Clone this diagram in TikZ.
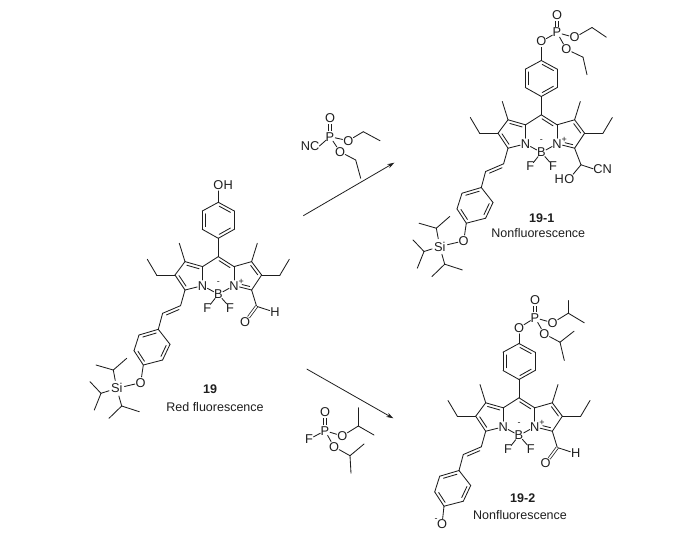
\documentclass[tikz,border=0pt]{standalone}
\usepackage{fontspec}
\setmainfont{Liberation Sans}
\usetikzlibrary{calc,positioning,arrows.meta}
\definecolor{inkgray}{RGB}{30,30,30}
\tikzset{
  bond/.style={draw=inkgray,line width=0.85pt,line cap=round},
  dblbond/.style={draw=inkgray,line width=0.75pt,double,double distance=1.6pt},
  atom/.style={circle,inner sep=-0.7pt,text=inkgray,font=\fontsize{12.8}{14}\selectfont},
  atomtail/.style={inner sep=0pt,text=inkgray,font=\fontsize{12.8}{14}\selectfont},
  charge/.style={inner sep=0pt,text=inkgray,font=\fontsize{9}{10}\selectfont},
  caption/.style={inner sep=0pt,text=inkgray,font=\fontsize{12.5}{14}\selectfont},
  reaction/.style={draw=inkgray,line width=0.8pt,-{Stealth[length=7pt,width=4.5pt]}}
}
% inner line of a double bond: [trim at start]{from}{to}, it lies left of the direction
\newcommand{\dbond}[3][0.15]{\draw[bond] ($(#2)!#1!(#3)!3pt!90:(#3)$) -- ($(#3)!0.15!(#2)!-3pt!90:(#2)$);}
% dye skeleton, B at the origin of the scope
\newcommand{\dyecore}{
  \node[atom] (B) at (0,0) {B};
  \node[atom] (NL) at (-15.7,-8.7) {N};
  \node[atom] (NR) at (15.7,-8.7) {N};
  \node[atom] (FL) at (-11,14) {F};
  \node[atom] (FR) at (11.7,13.3) {F};
  \node[charge] (minus) at (0,-11) {-};
  \node[charge] (plus) at (23,-12.7) {+};
  \coordinate (meso) at (0,-37.7);
  \coordinate (aL) at (-15.7,-27.7);
  \coordinate (bL) at (-33.3,-32.7);
  \coordinate (gL) at (-43.3,-19.3);
  \coordinate (dL) at (-33.3,-4.3);
  \coordinate (aR) at (15.7,-27.7);
  \coordinate (bR) at (33.3,-32.7);
  \coordinate (gR) at (43.3,-19.3);
  \coordinate (dR) at (33.3,-4.3);
  \coordinate (meL) at (-39,-51);
  \coordinate (meR) at (39,-51);
  \coordinate (etL1) at (-61.7,-19.3);
  \coordinate (etL2) at (-71,-35);
  \coordinate (etR1) at (61.7,-19.3);
  \coordinate (etR2) at (71,-35);
  \coordinate (ph1) at (0,-56);
  \coordinate (ph2) at (16,-65);
  \coordinate (ph3) at (16,-83.3);
  \coordinate (ph4) at (0,-92);
  \coordinate (ph5) at (-16,-83.3);
  \coordinate (ph6) at (-16,-65);
  \coordinate (v1) at (-37.7,11.3);
  \coordinate (v2) at (-55.7,19);
  \coordinate (r1) at (-60,35);
  \coordinate (r2) at (-48.3,50);
  \coordinate (r3) at (-55.7,65.7);
  \coordinate (r4) at (-75,70.7);
  \coordinate (r5) at (-84.3,56.4);
  \coordinate (r6) at (-79.3,40.7);
  \foreach \a/\b in {B/NL,B/NR,B/FL,B/FR,NL/aL,NL/dL,NR/aR,NR/dR,aL/meso,meso/aR,aL/bL,bL/gL,gL/dL,aR/bR,bR/gR,gR/dR,
      bL/meL,bR/meR,gL/etL1,etL1/etL2,gR/etR1,etR1/etR2,meso/ph1,ph1/ph2,ph2/ph3,ph3/ph4,ph4/ph5,ph5/ph6,ph6/ph1,
      dL/v1,v1/v2,v2/r1,r1/r2,r2/r3,r3/r4,r4/r5,r5/r6,r6/r1}
    \draw[bond] (\a) -- (\b);
  \dbond{aR}{meso} \dbond{aL}{bL} \dbond{gL}{dL} \dbond[0.42]{NR}{dR} \dbond{gR}{bR} \dbond{v1}{v2}
  \dbond{ph1}{ph2} \dbond{ph3}{ph4} \dbond{ph5}{ph6} \dbond{r1}{r6} \dbond{r5}{r4} \dbond{r3}{r2}
}
% silyl ether on the styryl ring
\newcommand{\silylether}{
  \node[atom] (OS) at (-77.6,88.4) {O};
  \node[atom,inner sep=0.3pt] (Si) at (-101.6,94) {Si};
  \coordinate (ipA) at (-105,75.7);
  \coordinate (ipA1) at (-91.6,64);
  \coordinate (ipA2) at (-122.3,70.7);
  \coordinate (ipB) at (-117.3,99);
  \coordinate (ipB1) at (-128.3,87.4);
  \coordinate (ipB2) at (-124,115.7);
  \coordinate (ipC) at (-96.6,111.7);
  \coordinate (ipC1) at (-79,117.4);
  \coordinate (ipC2) at (-109.3,124);
  \foreach \a/\b in {r4/OS,OS/Si,Si/ipA,ipA/ipA1,ipA/ipA2,Si/ipB,ipB/ipB1,ipB/ipB2,Si/ipC,ipC/ipC1,ipC/ipC2}
    \draw[bond] (\a) -- (\b);
}
% aldehyde on the right ring
\newcommand{\formyl}{
  \coordinate (cho) at (38.3,12);
  \node[atom] (Oald) at (26.7,27.7) {O};
  \node[atom] (Hald) at (56.7,18) {H};
  \draw[bond] (dR) -- (cho);
  \draw[bond] (cho) -- (Hald);
  \draw[dblbond] (cho) -- (Oald);
}

\begin{document}
\begin{tikzpicture}[x=1pt,y=-1pt]
\useasboundingbox (0,0) rectangle (700,547);

% Compound 19
\begin{scope}[shift={(218.3,294.3)}]
  \dyecore
  \silylether
  \formyl
  \node[atom] (Oph) at (0,-109.3) {O};
  \node[atomtail,right=-0.8pt of Oph] (Hph) {H};
  \draw[bond] (ph4) -- (Oph);
\end{scope}

% Compound 19-1
\begin{scope}[shift={(541.3,152.5)}]
  \dyecore
  \silylether
  \node[atom] (Oph) at (0,-111) {O};
  \node[atom] (Pa) at (15.7,-120) {P};
  \node[atom] (Oa) at (15.7,-137.7) {O};
  \node[atom] (Ob) at (33.3,-115) {O};
  \node[atom] (Oc) at (25,-103.3) {O};
  \coordinate (etB1) at (50.7,-125);
  \coordinate (etB2) at (65,-115.3);
  \coordinate (etC1) at (41.7,-95.3);
  \coordinate (etC2) at (45.7,-77.7);
  \coordinate (chOH) at (39.7,12.3);
  \node[atom] (Ohy) at (28,26.3) {O};
  \node[atomtail,left=-0.8pt of Ohy] (Hhy) {H};
  \node[atomtail] (CN) at (61.3,16.3) {CN};
  \foreach \a/\b in {ph4/Oph,Oph/Pa,Pa/Ob,Pa/Oc,Ob/etB1,etB1/etB2,Oc/etC1,etC1/etC2,dR/chOH,chOH/Ohy}
    \draw[bond] (\a) -- (\b);
  \draw[bond] (chOH) -- (CN.west);
  \draw[dblbond] (Pa) -- (Oa);
\end{scope}

% Compound 19-2
\begin{scope}[shift={(519,435.5)}]
  \dyecore
  \formyl
  \node[atom] (Ophen) at (-77,89) {O};
  \node[charge] (minusO) at (-83,85) {-};
  \draw[bond] (r4) -- (Ophen);
  \node[atom] (Oph) at (0,-107.7) {O};
  \node[atom] (Pa) at (16,-117.7) {P};
  \node[atom] (Oa) at (16,-135) {O};
  \node[atom] (Ob) at (33.7,-112.7) {O};
  \node[atom] (Oc) at (25.3,-101.7) {O};
  \coordinate (ipD) at (49.3,-122.3);
  \coordinate (ipD1) at (49.3,-135);
  \coordinate (ipD2) at (65.3,-112.7);
  \coordinate (ipE) at (41,-93.3);
  \coordinate (ipE1) at (55,-104.3);
  \coordinate (ipE2) at (45.3,-75);
  \foreach \a/\b in {ph4/Oph,Oph/Pa,Pa/Ob,Pa/Oc,Ob/ipD,ipD/ipD1,ipD/ipD2,Oc/ipE,ipE/ipE1,ipE/ipE2}
    \draw[bond] (\a) -- (\b);
  \draw[dblbond] (Pa) -- (Oa);
\end{scope}

% Cyanophosphonate reagent
\node[atom] (P1) at (330,136.7) {P};
\node[atom] (O1a) at (330,118.3) {O};
\node[atomtail] (NC1) at (310,146) {NC};
\node[atom] (O1b) at (348.3,140.7) {O};
\node[atom] (O1c) at (340,151.7) {O};
\coordinate (e1a) at (363.3,131.7);
\coordinate (e1b) at (380,140.7);
\coordinate (e1c) at (355.7,160);
\coordinate (e1d) at (360.7,178.3);
\draw[dblbond] (P1) -- (O1a);
\draw[bond] (P1) -- (NC1.east);
\foreach \a/\b in {P1/O1b,P1/O1c,O1b/e1a,e1a/e1b,O1c/e1c,e1c/e1d}
  \draw[bond] (\a) -- (\b);

% Fluorophosphate reagent
\node[atom] (P2) at (325,430.7) {P};
\node[atom] (O2a) at (325,412.3) {O};
\node[atom] (F2) at (309,439.3) {F};
\node[atom] (O2b) at (342.3,436) {O};
\node[atom] (O2c) at (334,446.7) {O};
\coordinate (i2a) at (358.3,426);
\coordinate (i2a1) at (358.3,407.7);
\coordinate (i2a2) at (374,435);
\coordinate (i2b) at (350,455.7);
\coordinate (i2b1) at (364,444);
\coordinate (i2b2) at (351,473.3);
\draw[dblbond] (P2) -- (O2a);
\foreach \a/\b in {P2/F2,P2/O2b,P2/O2c,O2b/i2a,i2a/i2a1,i2a/i2a2,O2c/i2b,i2b/i2b1,i2b/i2b2}
  \draw[bond] (\a) -- (\b);

% Arrows
\coordinate (upstart) at (303.3,215.7);
\coordinate (upend) at (394.3,162.7);
\coordinate (downstart) at (306.7,369);
\coordinate (downend) at (393.3,418.3);
\draw[reaction] (upstart) -- (upend);
\draw[reaction] (downstart) -- (downend);

% Text Node
\node[caption,font=\fontsize{12.5}{14}\selectfont\bfseries] (label19) at (210,389.3) {19};
\node[caption] (text19) at (215,407.3) {Red fluorescence};
\node[caption,font=\fontsize{12.5}{14}\selectfont\bfseries] (label191) at (541.7,217.7) {19-1};
\node[caption] (text191) at (538.3,233.3) {Nonfluorescence};
\node[caption,font=\fontsize{12.5}{14}\selectfont\bfseries] (label192) at (522.7,498.3) {19-2};
\node[caption] (text192) at (520,515) {Nonfluorescence};

\end{tikzpicture}
\end{document}
